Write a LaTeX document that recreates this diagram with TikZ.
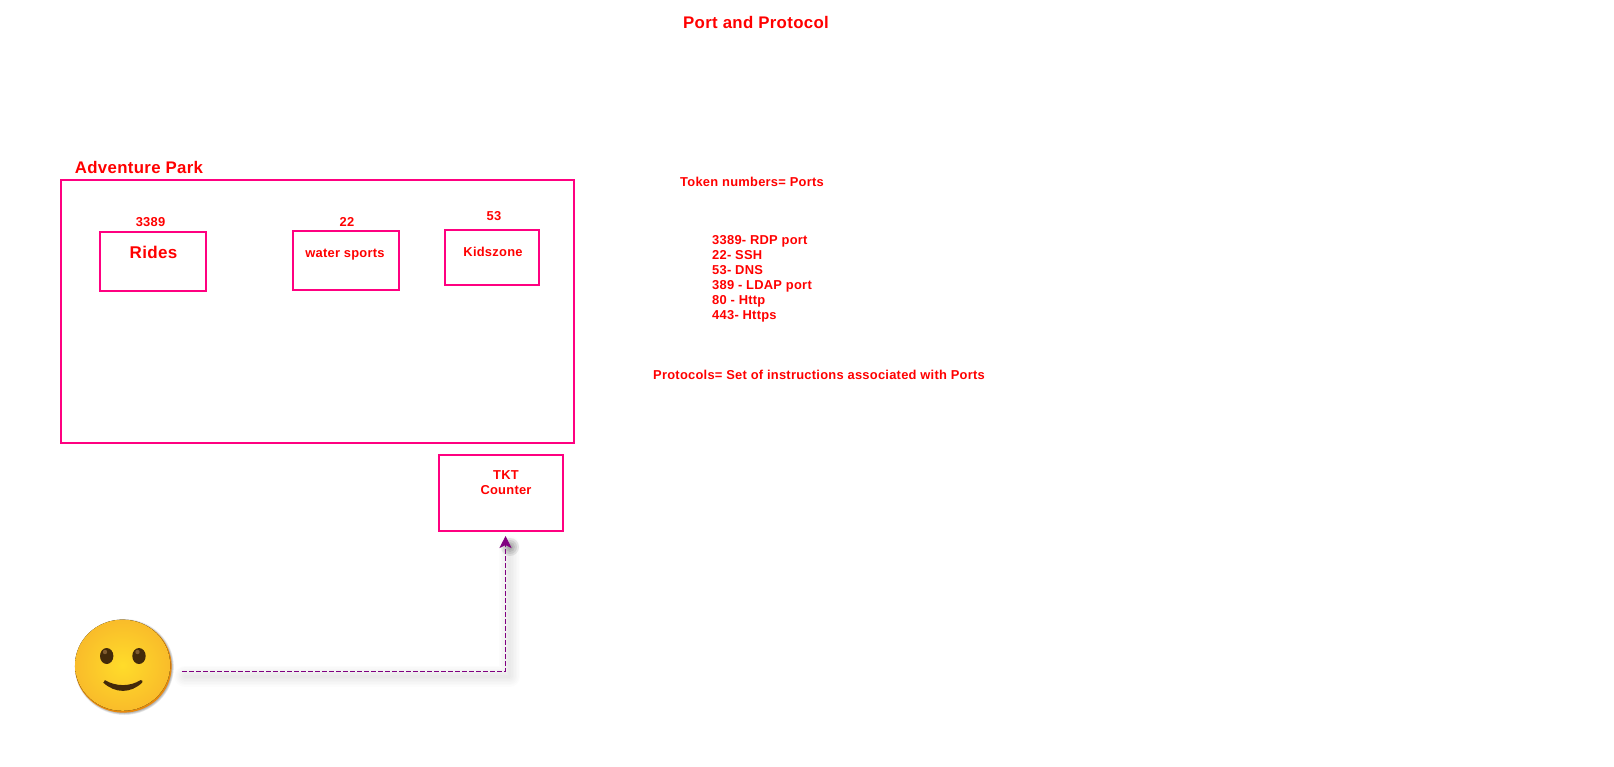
\documentclass[tikz,border=0pt]{standalone}
\usepackage{fontspec}
\setmainfont[LetterSpace=2]{Liberation Sans}
\usetikzlibrary{arrows.meta,shapes.geometric}
\definecolor{boxpink}{HTML}{FF0080}
\definecolor{flowpurple}{HTML}{800080}
\definecolor{facebrown}{HTML}{432A0A}
\definecolor{facemid}{HTML}{FFDC2A}
\definecolor{faceedge}{HTML}{F9BC2A}
\definecolor{facerim}{HTML}{E8890C}
\definecolor{eyeglint}{HTML}{7E5A30}
\tikzset{
  box/.style={draw=boxpink,line width=2pt,inner sep=0pt},
  lbl/.style={text=red,font=\bfseries\fontsize{12.9}{15.5}\selectfont,inner sep=0pt},
  flow/.style={draw=flowpurple,line width=0.9pt,dash pattern=on 5pt off 2pt,-{Stealth[length=12pt,width=12pt,inset=3pt]}},
  flowshadow/.style={draw=black,opacity=0.01,line cap=round,line join=round},
}
\begin{document}
\begin{tikzpicture}[x=1pt,y=-1pt]
  \useasboundingbox (0,0) rectangle (1614,766);
  % boxes
  \node[box,minimum width=513pt,minimum height=263pt] (park) at (317.5,311.5) {};
  \node[box,minimum width=106pt,minimum height=59pt] (rides) at (153,261.5) {};
  \node[box,minimum width=106pt,minimum height=59pt] (water) at (346,260.5) {};
  \node[box,minimum width=94pt,minimum height=55pt] (kids) at (492,257) {};
  \node[box,minimum width=124pt,minimum height=76pt] (tkt) at (501,493) {};
  % labels
  \node[lbl,font=\bfseries\fontsize{16.8}{19}\selectfont] (title) at (756,22) {Port and Protocol};
  \node[lbl,font=\bfseries\fontsize{16.8}{20}\selectfont] (parklbl) at (139,167.5) {Adventure Park};
  \node[lbl] (n3389) at (150.5,222) {3389};
  \node[lbl] (n22) at (347,222) {22};
  \node[lbl] (n53) at (494,216) {53};
  \node[lbl,font=\bfseries\fontsize{17}{20}\selectfont] (ridestxt) at (153.5,252) {Rides};
  \node[lbl] (watertxt) at (345,255) {water sports};
  \node[lbl] (kidstxt) at (493,251.5) {Kidszone};
  \node[lbl,align=center] (tkttxt) at (506,482.5) {TKT\\Counter};
  \node[lbl] (token) at (752,182) {Token numbers= Ports};
  \node[lbl,anchor=north west,align=left,font=\bfseries\fontsize{12.9}{15}\selectfont] (portlist) at (712,235.5) {3389- RDP port\\22- SSH\\53- DNS\\389 - LDAP port\\80 - Http\\443- Https};
  \node[lbl] (proto) at (819,375) {Protocols= Set of instructions associated with Ports};
  % smiley
  \foreach \r in {46,46.5,47,47.5,48}
    \fill[black,opacity=0.07] (124.3,667) ellipse ({\r+1.6} and \r);
  \node[ellipse,minimum width=96.7pt,minimum height=92.7pt,inner sep=0pt,fill=facerim] (smiley) at (123.3,666.3) {};
  \fill[inner color=facemid,outer color=faceedge] (122.6,665.2) ellipse (47.6 and 45.6);
  \fill[facebrown] (106.7,656) ellipse (6.7pt and 8pt);
  \fill[facebrown] (139,656) ellipse (6.7pt and 8pt);
  \fill[eyeglint] (105,652) circle (2.2pt);
  \fill[eyeglint] (137.5,652) circle (2.2pt);
  \filldraw[facebrown,line width=3pt,line join=round] (104.2,681.5) .. controls (116,688.3) and (130,688.3) .. (141.2,681.5)
    .. controls (130,692) and (116,692) .. (104.2,681.5);
  % connector
  \foreach \w in {3,6,9,12,15,18,21}
    \draw[flowshadow,line width=\w pt] ([xshift=13pt,yshift=-10pt]smiley.east) -| ([xshift=8.5pt,yshift=-14pt]tkt.south);
  \foreach \w in {1,3,5,7,9}
    \fill[black,opacity=0.08] ([xshift=9pt,yshift=-15pt]tkt.south) circle (\w pt);
  \draw[flow] ([xshift=10pt,yshift=-4.7pt]smiley.east) -| ([xshift=4.5pt,yshift=-4pt]tkt.south);
\end{tikzpicture}
\end{document}
